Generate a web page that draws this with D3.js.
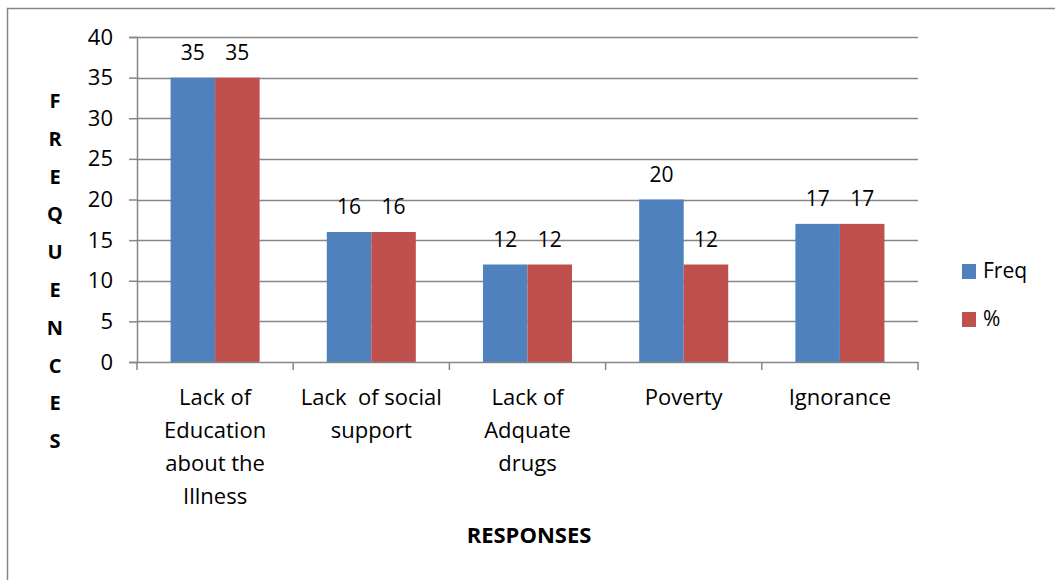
<!DOCTYPE html>
<html>
<head>
<meta charset="utf-8">
<script src="https://cdn.jsdelivr.net/npm/d3@7"></script>
<style>
  body { margin: 0; background: #fff; }
  svg text { font-family: "Open Sans", sans-serif; fill: #000; }
</style>
</head>
<body>
<div class="chart"></div>
<script>
// data
var categories = ["Lack of Education about the Illness", "Lack  of social support",
    "Lack of Adquate drugs", "Poverty", "Ignorance"];
var categoryLines = [
    ["Lack of", "Education", "about the", "Illness"],
    ["Lack  of social", "support"],
    ["Lack of", "Adquate", "drugs"],
    ["Poverty"],
    ["Ignorance"]
];
var seriesNames = ["Freq", "%"];
var freqValues = [35, 16, 12, 20, 17];
var pctValues = [35, 16, 12, 12, 17];
var yTicks = [0, 5, 10, 15, 20, 25, 30, 35, 40];
var yTitle = "FREQUENCES";
var xTitle = "RESPONSES";

var colors = {"Freq": "#4F81BD", "%": "#C0504D"};
var gridColor = "#868686";

var width = 1055, height = 580;
var plot = {left: 137, right: 918, top: 37, bottom: 362};

var svg = d3.select("div.chart")
    .append("svg")
    .attr("width", width)
    .attr("height", height);

// outer frame (only left and top edges fall inside the picture)
svg.append("rect")
    .attr("x", 7.5).attr("y", 8.5)
    .attr("width", 1060).attr("height", 600)
    .attr("fill", "none")
    .attr("stroke", gridColor)
    .attr("stroke-width", 1.5);

var x = d3.scaleBand()
    .domain(categories)
    .range([plot.left, plot.right])
    .paddingInner(0).paddingOuter(0);

var xs = d3.scaleBand()
    .domain(seriesNames)
    .range([x.bandwidth() * 0.215, x.bandwidth() * 0.785]);

var y = d3.scaleLinear()
    .domain([0, 40])
    .range([plot.bottom, plot.top]);

// gridlines
svg.append("g")
    .selectAll("line")
    .data(yTicks.slice(1))
    .enter().append("line")
    .attr("x1", plot.left).attr("x2", plot.right)
    .attr("y1", function (d) { return Math.round(y(d)) + 0.5; })
    .attr("y2", function (d) { return Math.round(y(d)) + 0.5; })
    .attr("stroke", gridColor)
    .attr("stroke-width", 1.5);

// y axis
var yAxis = svg.append("g")
    .attr("transform", "translate(" + plot.left + ",0)")
    .call(d3.axisLeft(y).tickValues(yTicks).tickSize(8).tickPadding(16));
yAxis.select(".domain").attr("stroke", gridColor).attr("stroke-width", 1.5);
yAxis.selectAll(".tick line").attr("stroke", gridColor).attr("stroke-width", 1.5);
yAxis.selectAll(".tick text")
    .style("font-size", "22px")
    .attr("fill", "#000");

// bars
var rows = categories.map(function (c, i) {
    return {cat: c, values: [{key: "Freq", v: freqValues[i]}, {key: "%", v: pctValues[i]}]};
});

var groups = svg.append("g").selectAll("g")
    .data(rows)
    .enter().append("g")
    .attr("transform", function (d) { return "translate(" + x(d.cat) + ",0)"; });

groups.selectAll("rect")
    .data(function (d) { return d.values; })
    .enter().append("rect")
    .attr("x", function (d) { return xs(d.key); })
    .attr("width", xs.bandwidth())
    .attr("y", function (d) { return y(d.v); })
    .attr("height", function (d) { return y(0) - y(d.v); })
    .attr("fill", function (d) { return colors[d.key]; });

groups.selectAll("text.val")
    .data(function (d) { return d.values; })
    .enter().append("text")
    .attr("class", "val")
    .attr("x", function (d) { return xs(d.key) + xs.bandwidth() / 2; })
    .attr("y", function (d) { return y(d.v) - 18; })
    .attr("text-anchor", "middle")
    .style("font-size", "21px")
    .text(function (d) { return d.v; });

// x axis
var xAxis = svg.append("g")
    .attr("transform", "translate(0," + plot.bottom + ")")
    .call(d3.axisBottom(x).tickSize(0).tickFormat(""));
xAxis.select(".domain").attr("stroke", gridColor).attr("stroke-width", 1.5);

// category separators
svg.append("g").selectAll("line")
    .data(d3.range(categories.length + 1))
    .enter().append("line")
    .attr("x1", function (i) { return plot.left + i * x.bandwidth(); })
    .attr("x2", function (i) { return plot.left + i * x.bandwidth(); })
    .attr("y1", plot.bottom).attr("y2", plot.bottom + 8)
    .attr("stroke", gridColor)
    .attr("stroke-width", 1.5);

// category labels
categories.forEach(function (c, i) {
    var t = svg.append("text")
        .attr("text-anchor", "middle")
        .attr("xml:space", "preserve")
        .style("white-space", "pre")
        .style("font-size", "22px");
    categoryLines[i].forEach(function (line, j) {
        t.append("tspan")
            .attr("x", x(c) + x.bandwidth() / 2)
            .attr("y", 405 + j * 33)
            .text(line);
    });
});

// y title, one letter per line
svg.append("g").selectAll("text")
    .data(yTitle.split(""))
    .enter().append("text")
    .attr("x", 55)
    .attr("y", function (d, i) { return 108 + i * 37.8; })
    .attr("text-anchor", "middle")
    .style("font-size", "20px")
    .style("font-weight", "bold")
    .text(function (d) { return d; });

// x title
svg.append("text")
    .attr("x", 529)
    .attr("y", 543)
    .attr("text-anchor", "middle")
    .style("font-size", "22px")
    .style("font-weight", "bold")
    .text(xTitle);

// legend
var legend = svg.append("g").selectAll("g")
    .data(seriesNames)
    .enter().append("g")
    .attr("transform", function (d, i) { return "translate(962," + (264 + i * 48) + ")"; });
legend.append("rect")
    .attr("width", 14).attr("height", 15)
    .attr("fill", function (d) { return colors[d]; });
legend.append("text")
    .attr("x", 21)
    .attr("y", 14)
    .style("font-size", "21px")
    .text(function (d) { return d; });
</script>
</body>
</html>
